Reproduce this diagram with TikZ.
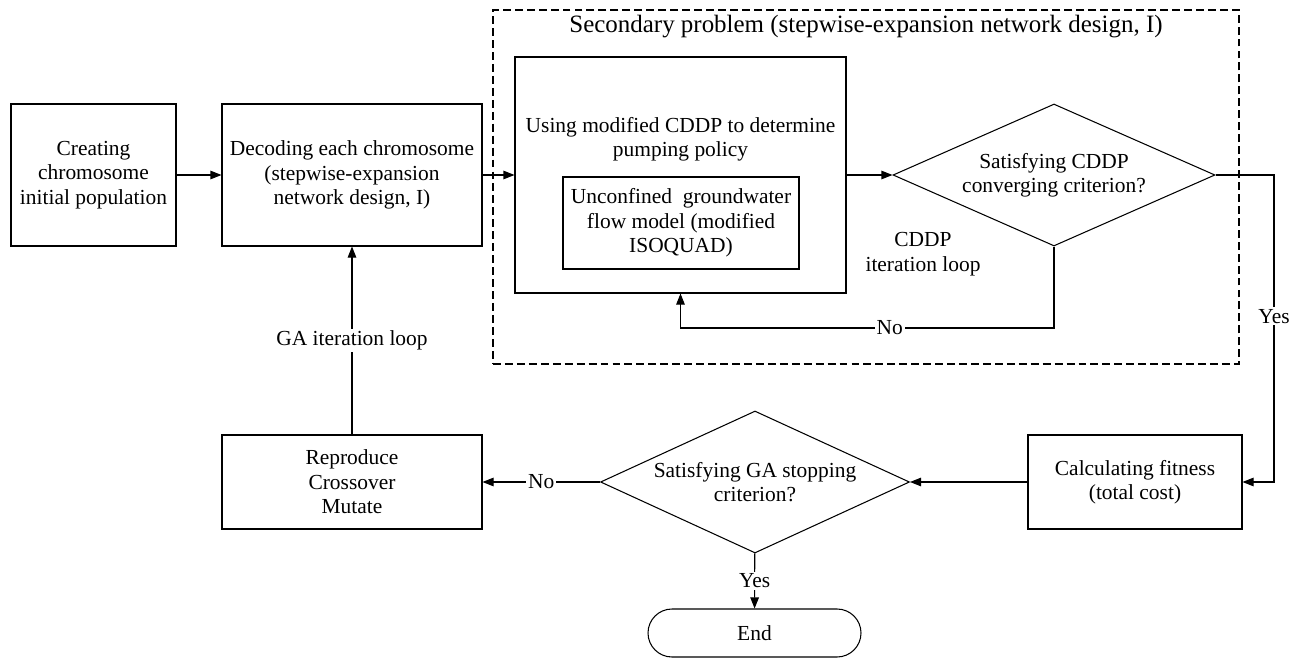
\documentclass[tikz,border=0pt]{standalone}
\usepackage{fontspec}
\setmainfont{Liberation Serif}
\usetikzlibrary{shapes.geometric,arrows.meta}

\begin{document}
\begin{tikzpicture}[
    box/.style={draw, line width=0.6pt, align=center, inner sep=2pt, font=\fontsize{12.2}{13.9}\selectfont},
    decision/.style={box, diamond, inner sep=0pt},
    terminal/.style={box, rounded corners=0.48cm},
    frame/.style={draw, line width=0.6pt, dash pattern=on 4.5pt off 2.3pt},
    arrow/.style={-{Triangle[length=2.2mm,width=1.7mm]}, line width=0.6pt},
    lbl/.style={fill=white, inner sep=1pt, font=\fontsize{12.2}{13.9}\selectfont},
    plain/.style={align=center, font=\fontsize{12.2}{13.9}\selectfont}
  ]
    \useasboundingbox (0,0) rectangle (26.04,13.24);

    % secondary problem frame (dashed)
    \node[frame, minimum width=14.92cm, minimum height=7.08cm] (secondary) at (17.32,9.50) {};
    \node[plain, font=\fontsize{14.2}{16}\selectfont] (sectitle) at (17.32,12.70) {Secondary problem (stepwise-expansion network design, I)};

    % upper row
    \node[box, minimum width=3.30cm, minimum height=2.84cm] (create) at (1.87,9.74) {Creating\\chromosome\\initial population};
    \node[box, minimum width=5.20cm, minimum height=2.84cm] (decode) at (7.04,9.74) {Decoding each chromosome\\(stepwise-expansion\\network design, I)};
    \node[box, minimum width=6.62cm, minimum height=4.72cm] (cddp) at (13.61,9.74) {};
    \node[plain] (cddptext) at (13.61,10.46) {Using modified CDDP to determine\\pumping policy};
    \node[box, minimum width=4.72cm, minimum height=1.84cm] (flow) at (13.62,8.78) {Unconfined\ \ groundwater\\flow model (modified\\ISOQUAD)};
    \node[decision, aspect=2.27, minimum width=6.44cm, minimum height=2.84cm] (conv) at (21.08,9.74) {Satisfying CDDP\\converging criterion?};
    \node[plain] (cddploop) at (18.46,8.16) {CDDP\\iteration loop};

    % lower row
    \node[box, minimum width=4.28cm, minimum height=1.88cm] (fitness) at (22.70,3.60) {Calculating fitness\\(total cost)};
    \node[decision, aspect=2.18, minimum width=6.18cm, minimum height=2.84cm] (stop) at (15.10,3.60) {Satisfying GA stopping\\criterion?};
    \node[box, minimum width=5.20cm, minimum height=1.88cm] (reproduce) at (7.04,3.60) {Reproduce\\Crossover\\Mutate};
    \node[terminal, minimum width=4.26cm, minimum height=0.96cm] (end) at (15.09,0.58) {End};

    \coordinate (nocorner) at (21.08,6.68);
    \coordinate (yescorner) at (25.48,9.74);

    \draw[arrow] (create) -- (decode);
    \draw[arrow] (decode) -- (cddp);
    \draw[arrow] (cddp) -- (conv);
    \draw[arrow] (conv.south) -- (nocorner) -| node[lbl, pos=0.22] {No} (cddp.south);
    \draw[arrow] (conv.east) -- (yescorner) |- node[lbl, pos=0.23] {Yes} (fitness.east);
    \draw[arrow] (fitness) -- (stop);
    \draw[arrow] (stop) -- node[lbl] {No} (reproduce);
    \draw[arrow] (stop) -- node[lbl] {Yes} (end);
    \draw[arrow] (reproduce) -- node[lbl] {GA iteration loop} (decode);
  \end{tikzpicture}
\end{document}
